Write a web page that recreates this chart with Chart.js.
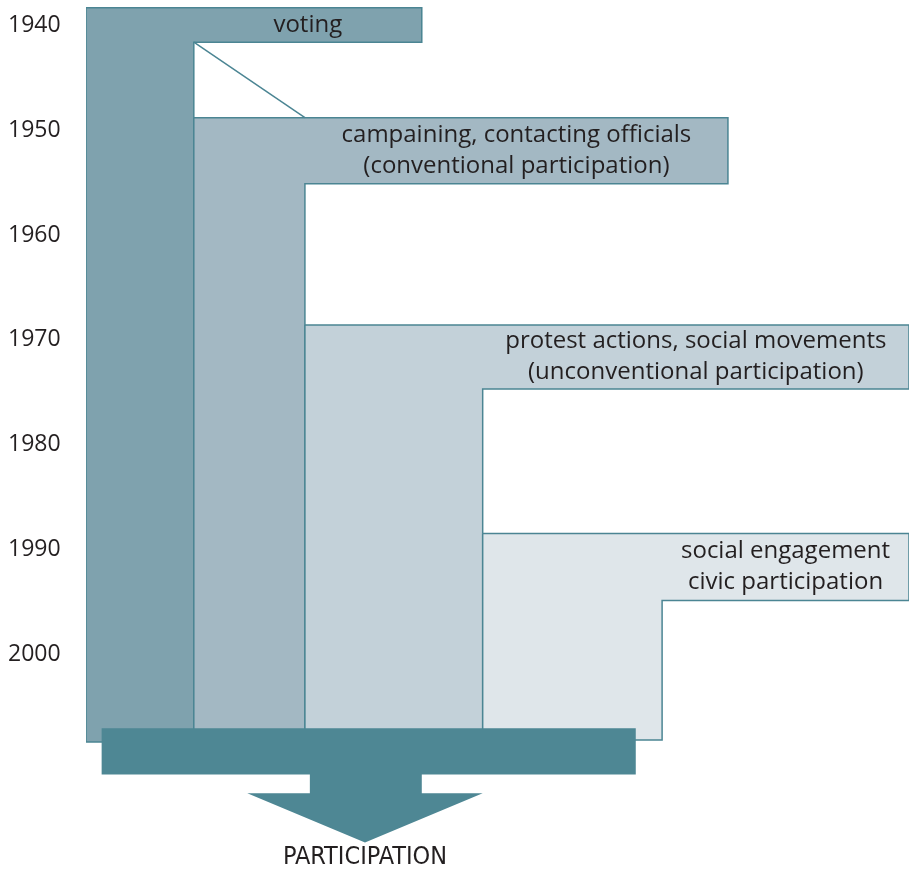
<!DOCTYPE html>
<html>
<head>
<meta charset="utf-8">
<script src="https://cdn.jsdelivr.net/npm/chart.js@4.4.0/dist/chart.umd.min.js"></script>
<style>
  html, body { margin: 0; padding: 0; background: #fff; }
</style>
</head>
<body>
<canvas id="chart" width="909" height="870"></canvas>
<script>
// Years on the left axis
const yearTicks = [1940, 1950, 1960, 1970, 1980, 1990, 2000];

// Forms of participation, oldest first
const formLabels = [
    ['voting'],
    ['campaining, contacting officials', '(conventional participation)'],
    ['protest actions, social movements', '(unconventional participation)'],
    ['social engagement', 'civic participation']
];
// when each form appears (top and bottom of its band, in years)
const bandStart = [1938.3, 1948.8, 1968.6, 1988.5];
const bandEnd = [1941.6, 1955.1, 1974.7, 1994.9];
// where each column stops at the bottom
const columnEnd = [2008.4, 2007.3, 2007.3, 2008.2];
// breadth of repertoire (0-100): column edges and band end
const columnLeft = [0, 13.1, 26.6, 48.2];
const columnRight = [13.1, 26.6, 48.2, 70.0];
const bandRight = [40.8, 78.0, 100, 100];

// total participation bar + arrow
const totalLabel = 'PARTICIPATION';
const totalBarX = [1.9, 66.8];
const totalBarY = [2007.1, 2011.5];
const arrowStemX = [27.2, 40.8];
const arrowHeadX = [19.6, 48.2];
const arrowHeadY = 2013.3;
const arrowTip = [33.9, 2018.0];
const totalLabelY = 2019.4;

const fillColors = ['#7fa2ae', '#a3b8c3', '#c3d1d9', '#dfe6ea'];
const edgeColor = '#4b8593';
const arrowColor = '#4e8794';
const textColor = '#231f20';

// L-shaped outline for one form: band on top, column going down
function lShape(i) {
    const l = columnLeft[i], r = columnRight[i], br = bandRight[i];
    const t = bandStart[i], b = bandEnd[i], e = columnEnd[i];
    return [
        {x: l, y: t}, {x: br, y: t}, {x: br, y: b}, {x: r, y: b},
        {x: r, y: e}, {x: l, y: e}, {x: l, y: t}
    ];
}

function arrowShape() {
    const [bx0, bx1] = totalBarX;
    const [by0, by1] = totalBarY;
    const [sx0, sx1] = arrowStemX;
    const [hx0, hx1] = arrowHeadX;
    return [
        {x: bx0, y: by0}, {x: bx1, y: by0}, {x: bx1, y: by1}, {x: sx1, y: by1},
        {x: sx1, y: arrowHeadY}, {x: hx1, y: arrowHeadY}, {x: arrowTip[0], y: arrowTip[1]},
        {x: hx0, y: arrowHeadY}, {x: sx0, y: arrowHeadY}, {x: sx0, y: by1},
        {x: bx0, y: by1}, {x: bx0, y: by0}
    ];
}

const datasets = formLabels.map((lbl, i) => ({
    label: lbl.join(' '),
    data: lShape(i),
    showLine: true,
    fill: 'shape',
    backgroundColor: fillColors[i],
    borderColor: edgeColor,
    borderWidth: 1.5,
    pointRadius: 0,
    tension: 0,
    order: 10 - i
}));

// thin link from voting to campaigning
datasets.push({
    label: 'link',
    data: [{x: columnRight[0], y: bandEnd[0]}, {x: columnRight[1], y: bandStart[1]}],
    showLine: true,
    fill: false,
    borderColor: edgeColor,
    borderWidth: 1.5,
    pointRadius: 0,
    order: 5
});

datasets.push({
    label: totalLabel,
    data: arrowShape(),
    showLine: true,
    fill: 'shape',
    backgroundColor: arrowColor,
    borderColor: arrowColor,
    borderWidth: 0,
    pointRadius: 0,
    order: 1
});

// Write the labels inside the bands and under the arrow
const labelPlugin = {
    id: 'bandLabels',
    afterDatasetsDraw(chart) {
        const {ctx, scales: {x, y}} = chart;
        ctx.save();
        ctx.fillStyle = textColor;
        ctx.textAlign = 'center';
        ctx.textBaseline = 'middle';
        ctx.font = '24px "Open Sans"';
        const lineH = 31;
        formLabels.forEach((lines, i) => {
            const cx = x.getPixelForValue((columnRight[i] + bandRight[i]) / 2);
            const cy = y.getPixelForValue((bandStart[i] + bandEnd[i]) / 2);
            lines.forEach((txt, k) => {
                ctx.fillText(txt, cx, cy + (k - (lines.length - 1) / 2) * lineH);
            });
        });
        ctx.font = '25px "Liberation Sans Narrow", "DejaVu Sans Condensed", sans-serif';
        ctx.fillText(totalLabel, x.getPixelForValue(arrowTip[0]), y.getPixelForValue(totalLabelY));
        ctx.restore();
    }
};

new Chart(document.getElementById('chart'), {
    type: 'scatter',
    data: { datasets: datasets },
    options: {
        responsive: false,
        animation: false,
        layout: { padding: { left: 8, top: 0, right: 0, bottom: 0 } },
        plugins: {
            legend: { display: false },
            tooltip: { enabled: false }
        },
        scales: {
            x: { display: false, min: 0, max: 100 },
            y: {
                reverse: true,
                min: 1937.57,
                max: 2020.62,
                grid: { display: false },
                border: { display: false },
                afterBuildTicks: scale => {
                    scale.ticks = yearTicks.map(v => ({ value: v }));
                },
                afterFit: scale => {
                    scale.width = 78;
                    scale.paddingTop = 0;
                    scale.paddingBottom = 0;
                },
                ticks: {
                    crossAlign: 'far',
                    padding: 0,
                    color: textColor,
                    font: { family: 'Open Sans', size: 23 },
                    callback: v => String(v)
                }
            }
        }
    },
    plugins: [labelPlugin]
});
</script>
</body>
</html>
